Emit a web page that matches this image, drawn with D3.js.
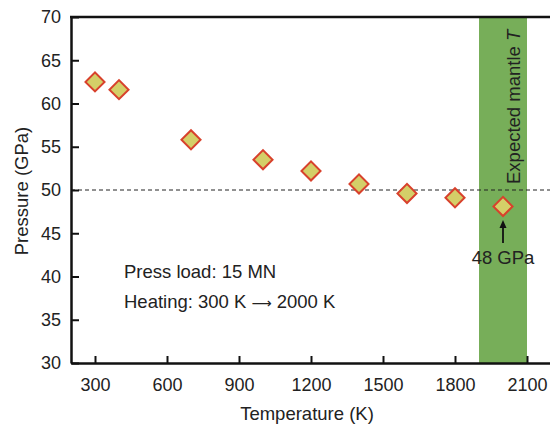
<!DOCTYPE html>
<html><head><meta charset="utf-8">
<script src="https://cdn.jsdelivr.net/npm/d3@7"></script>
<style>body{margin:0;background:#fff}svg{display:block;font-family:"Liberation Sans",Arial,sans-serif}</style>
</head><body><svg id="c" width="550" height="429"></svg>
<script>
const temps = [300, 400, 700, 1000, 1200, 1400, 1600, 1800, 2000];
const pressures = [62.5, 61.6, 55.8, 53.5, 52.2, 50.7, 49.6, 49.1, 48.1];
const xTicks = [300, 600, 900, 1200, 1500, 1800, 2100];
const yTicks = [30, 35, 40, 45, 50, 55, 60, 65, 70];
const bandRange = [1900, 2100];
const refPressure = 50;

const svg = d3.select("#c");
const x = d3.scaleLinear().domain([200, 2200]).range([71, 551]);
const y = d3.scaleLinear().domain([30, 70]).range([363, 17]);
const textCol = "#222";
const fs = "18.5px";

// green band
svg.append("rect").attr("x", x(bandRange[0])).attr("y", y(70))
  .attr("width", x(bandRange[1]) - x(bandRange[0])).attr("height", y(30) - y(70))
  .attr("fill", "#77ae59");

// dashed line
svg.append("line").attr("x1", x(200)).attr("x2", 550).attr("y1", y(refPressure)).attr("y2", y(refPressure))
  .attr("stroke", "#222").attr("stroke-width", 1).attr("stroke-dasharray", "4,3");

// axes
const xAxis = d3.axisBottom(x).tickValues(xTicks).tickFormat(d3.format("d")).tickSizeInner(-7).tickSizeOuter(0).tickPadding(12);
const gx = svg.append("g").attr("transform", `translate(0,${y(30)})`).call(xAxis);
const yAxis = d3.axisLeft(y).tickValues(yTicks).tickFormat(d3.format("d")).tickSizeInner(-8).tickSizeOuter(0).tickPadding(10);
const gy = svg.append("g").attr("transform", `translate(${x(200)},0)`).call(yAxis);
[gx, gy].forEach(g => {
  g.select(".domain").attr("stroke", "#111").attr("stroke-width", 2.5);
  g.selectAll(".tick line").attr("stroke", "#111").attr("stroke-width", 2);
  g.selectAll(".tick text").attr("fill", textCol).style("font-size", "18px").style("font-family", "Liberation Sans, Arial, sans-serif");
});
gx.selectAll(".tick text").attr("dy", "0.9em");
// top frame line
svg.append("line").attr("x1", x(200) - 1).attr("x2", 550).attr("y1", y(70)).attr("y2", y(70))
  .attr("stroke", "#111").attr("stroke-width", 2.5);

// markers
const sym = d3.symbol().type(d3.symbolSquare).size(13.5 * 13.5);
svg.append("g").selectAll("path").data(temps).join("path")
  .attr("d", sym)
  .attr("transform", (d, i) => `translate(${x(d)},${y(pressures[i])}) rotate(45)`)
  .attr("fill", "#d4cf68").attr("stroke", "#d8412c").attr("stroke-width", 2);

// axis titles
svg.append("text").attr("x", 307).attr("y", 420).attr("text-anchor", "middle")
  .attr("fill", textCol).style("font-size", fs).text("Temperature (K)");
svg.append("text").attr("transform", "translate(28,191) rotate(-90)").attr("text-anchor", "middle")
  .attr("fill", textCol).style("font-size", fs).text("Pressure (GPa)");

// annotations
svg.append("text").attr("x", 124).attr("y", 278).attr("fill", textCol).style("font-size", fs).text("Press load: 15 MN");
const heat = svg.append("text").attr("x", 124).attr("y", 308).attr("fill", textCol).style("font-size", fs);
heat.append("tspan").text("Heating: 300 K ");
heat.append("tspan").style("font-family", "DejaVu Sans").style("font-size", "14px").text("\u27F6");
heat.append("tspan").text(" 2000 K");

const band = svg.append("text").attr("transform", "translate(520,184) rotate(-90)")
  .attr("fill", textCol).style("font-size", fs);
band.append("tspan").text("Expected mantle ");
band.append("tspan").style("font-style", "italic").text("T");

// arrow
const ax = x(temps[8]);
svg.append("line").attr("x1", ax).attr("x2", ax).attr("y1", 243).attr("y2", 226)
  .attr("stroke", "#111").attr("stroke-width", 1.8);
svg.append("path").attr("d", `M${ax},220 L${ax - 3.5},228 L${ax + 3.5},228 Z`).attr("fill", "#111");
svg.append("text").attr("x", ax).attr("y", 264).attr("text-anchor", "middle")
  .attr("fill", textCol).style("font-size", fs).text("48 GPa");
</script></body></html>
